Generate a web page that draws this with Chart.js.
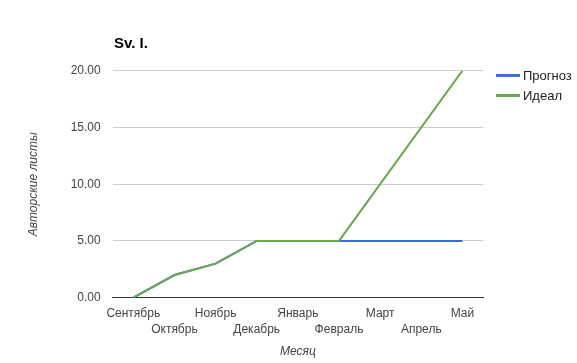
<!DOCTYPE html>
<html>
<head>
<meta charset="utf-8">
<script src="https://cdn.jsdelivr.net/npm/chart.js@4/dist/chart.umd.min.js"></script>
<style>
  html, body { margin: 0; padding: 0; background: #fff; }
  #wrap { width: 577px; height: 363px; position: relative; }
</style>
</head>
<body>
<div id="wrap"><canvas id="mychart" width="577" height="363"></canvas></div>
<script>
// data
const months = ['Сентябрь', 'Октябрь', 'Ноябрь', 'Декабрь', 'Январь', 'Февраль', 'Март', 'Апрель', 'Май'];
const prognoz = [0, 2, 3, 5, 5, 5, 5, 5, 5];
const ideal = [0, 2, 3, 5, 5, 5, 10, 15, 20];
const seriesNames = ['Прогноз', 'Идеал'];
const seriesColors = ['#3c6fd6', '#6aa84f'];
const chartTitle = 'Sv. I.';

const FONT = 'Arial, "Liberation Sans", sans-serif';

/*------title + legend drawn on canvas-----*/
const extras = {
    id: 'extras',
    afterDraw(chart) {
        const c = chart.ctx;
        c.save();
        c.fillStyle = '#000';
        c.font = 'bold 15px ' + FONT;
        c.textBaseline = 'middle';
        c.textAlign = 'left';
        c.fillText(chartTitle, 114, 43.5);

        c.font = '13px ' + FONT;
        seriesNames.forEach(function (name, i) {
            const y = 75.5 + i * 20;
            c.strokeStyle = seriesColors[i];
            c.lineWidth = 3;
            c.beginPath();
            c.moveTo(496, y);
            c.lineTo(520, y);
            c.stroke();
            c.fillStyle = '#222';
            c.fillText(name, 523, y + 0.5);
        });
        c.restore();
    }
};

const ctx1 = document.getElementById('mychart').getContext('2d');
const myChart = new Chart(ctx1, {
    type: 'line',
    data: {
        labels: months,
        datasets: [{
            label: seriesNames[0],
            data: prognoz,
            borderColor: seriesColors[0],
            backgroundColor: seriesColors[0],
            borderWidth: 2,
            pointRadius: 0,
            tension: 0,
            order: 2
        }, {
            label: seriesNames[1],
            data: ideal,
            borderColor: seriesColors[1],
            backgroundColor: seriesColors[1],
            borderWidth: 2,
            pointRadius: 0,
            tension: 0,
            order: 1
        }]
    },
    options: {
        responsive: false,
        devicePixelRatio: 1,
        animation: false,
        events: [],
        layout: { padding: { left: 0, right: 94, top: 70.7, bottom: 0 } },
        plugins: {
            legend: { display: false },
            title: { display: false },
            tooltip: { enabled: false }
        },
        scales: {
            x: {
                offset: true,
                grid: { display: false, drawTicks: false },
                border: { display: true, color: '#333', width: 1 },
                ticks: {
                    autoSkip: false,
                    maxRotation: 0,
                    minRotation: 0,
                    padding: 8,
                    color: '#444',
                    font: { family: FONT, size: 12, lineHeight: 1.35 },
                    callback: function (v, i) {
                        return i % 2 === 0 ? months[i] : ['', months[i]];
                    }
                },
                title: {
                    display: true,
                    text: 'Месяц',
                    color: '#444',
                    font: { family: FONT, size: 12, style: 'italic' },
                    padding: { top: 0, bottom: 4 }
                },
                afterFit: function (s) { s.height = 65.3; }
            },
            y: {
                min: 0,
                max: 20,
                grid: {
                    drawTicks: false,
                    color: function (c) { return c.tick && c.tick.value === 0 ? 'rgba(0,0,0,0)' : '#ccc'; }
                },
                border: { display: false },
                ticks: {
                    stepSize: 5,
                    padding: 12,
                    color: '#444',
                    font: { family: FONT, size: 12 },
                    callback: function (v) { return Number(v).toFixed(2); }
                },
                title: {
                    display: true,
                    text: 'Авторские листы',
                    color: '#444',
                    font: { family: FONT, size: 12, style: 'italic' },
                    padding: { top: 26, bottom: 0 }
                },
                afterFit: function (s) { s.width = 112.7; }
            }
        }
    },
    plugins: [extras]
});
</script>
</body>
</html>
